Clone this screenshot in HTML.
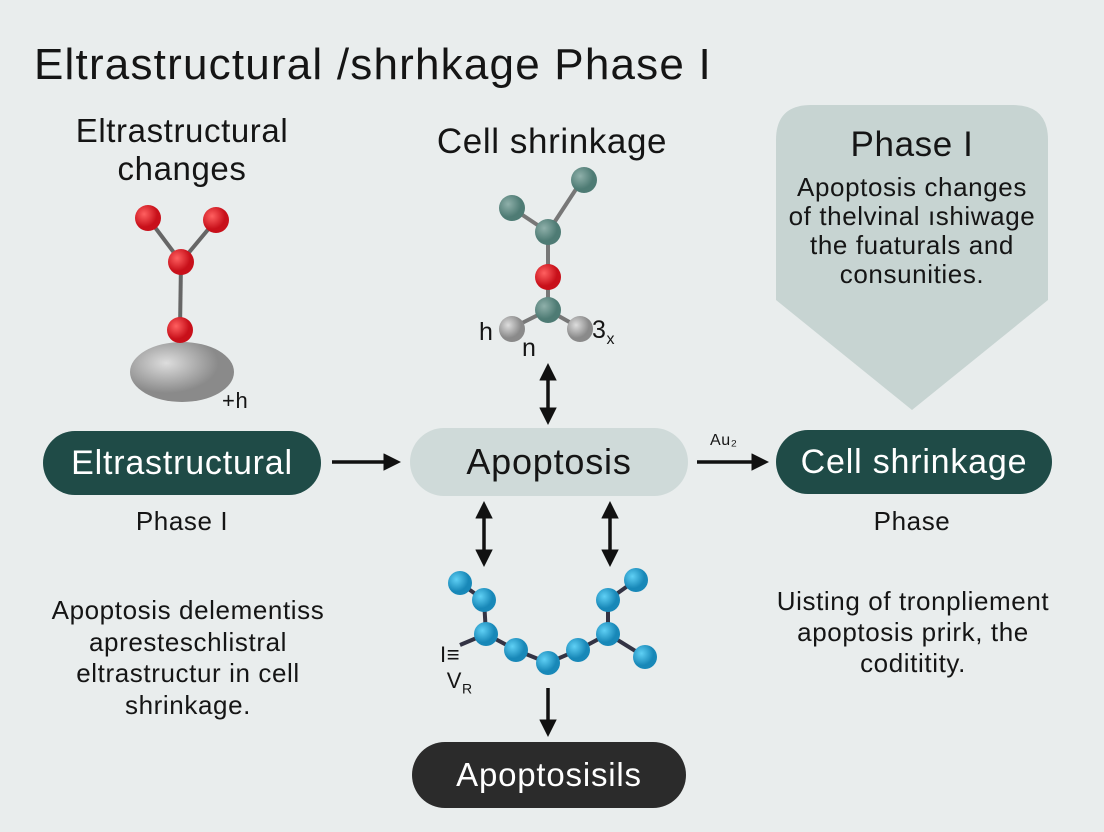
<!DOCTYPE html>
<html><head><style>
body{margin:0;width:1104px;height:832px;background:#e9eded;font-family:"Liberation Sans",sans-serif;overflow:hidden;position:relative}
.t{position:absolute;white-space:nowrap;color:#151515;letter-spacing:0.6px}
.c{transform:translateX(-50%);text-align:center}
.pill{position:absolute;border-radius:34px;display:flex;align-items:center;justify-content:center;font-size:34px;letter-spacing:0.8px}
</style></head><body>
<div class="t" style="left:34px;top:40px;font-size:44px;letter-spacing:1.2px">Eltrastructural /shrhkage Phase I</div>
<div class="t c" style="left:182px;top:112px;font-size:33px;line-height:38px">Eltrastructural<br>changes</div>
<div class="t c" style="left:552px;top:122px;font-size:35px">Cell shrinkage</div>
<svg width="1104" height="832" style="position:absolute;left:0;top:0">
<defs>
<radialGradient id="r" cx="35%" cy="35%"><stop offset="0" stop-color="#ff6060"/><stop offset="1" stop-color="#c8101a"/></radialGradient>
<radialGradient id="g" cx="35%" cy="35%"><stop offset="0" stop-color="#8fb0aa"/><stop offset="1" stop-color="#4e7b74"/></radialGradient>
<radialGradient id="s" cx="35%" cy="35%"><stop offset="0" stop-color="#ddd"/><stop offset="1" stop-color="#8a8a8a"/></radialGradient>
<radialGradient id="b" cx="35%" cy="35%"><stop offset="0" stop-color="#5fd0f5"/><stop offset="1" stop-color="#1888b8"/></radialGradient>
<marker id="a" markerWidth="5" markerHeight="5" refX="3" refY="2.5" orient="auto" markerUnits="strokeWidth"><path d="M0,0L5,2.5L0,5z" fill="#111"/></marker>
</defs>
<path d="M776,140 Q776,105 811,105 L1013,105 Q1048,105 1048,140 L1048,300 L912,410 L776,300Z" fill="#c7d4d2"/>
<g stroke="#666" stroke-width="4"><line x1="148" y1="218" x2="181" y2="262"/><line x1="216" y1="220" x2="181" y2="262"/><line x1="181" y1="262" x2="180" y2="330"/></g>
<ellipse cx="182" cy="372" rx="52" ry="30" fill="url(#s)"/>
<circle cx="148" cy="218" r="13" fill="url(#r)"/><circle cx="216" cy="220" r="13" fill="url(#r)"/><circle cx="181" cy="262" r="13" fill="url(#r)"/><circle cx="180" cy="330" r="13" fill="url(#r)"/>
<g stroke="#777" stroke-width="4"><line x1="512" y1="208" x2="548" y2="232"/><line x1="582" y1="180" x2="548" y2="232"/><line x1="548" y1="232" x2="548" y2="310"/><line x1="512" y1="328" x2="548" y2="310"/><line x1="580" y1="328" x2="548" y2="310"/></g>
<circle cx="512" cy="208" r="13" fill="url(#g)"/><circle cx="584" cy="180" r="13" fill="url(#g)"/><circle cx="548" cy="232" r="13" fill="url(#g)"/><circle cx="548" cy="277" r="13" fill="url(#r)"/><circle cx="548" cy="310" r="13" fill="url(#g)"/><circle cx="512" cy="329" r="13" fill="url(#s)"/><circle cx="580" cy="329" r="13" fill="url(#s)"/>
<polyline points="460,583 484,600 486,634 516,650 548,663 578,650 608,634 608,600 636,580" fill="none" stroke="#334" stroke-width="4"/>
<line x1="608" y1="634" x2="645" y2="657" stroke="#334" stroke-width="4"/><line x1="486" y1="634" x2="460" y2="645" stroke="#334" stroke-width="4"/>
<g fill="url(#b)"><circle cx="460" cy="583" r="12"/><circle cx="484" cy="600" r="12"/><circle cx="486" cy="634" r="12"/><circle cx="516" cy="650" r="12"/><circle cx="548" cy="663" r="12"/><circle cx="578" cy="650" r="12"/><circle cx="608" cy="634" r="12"/><circle cx="608" cy="600" r="12"/><circle cx="636" cy="580" r="12"/><circle cx="645" cy="657" r="12"/></g>
<g stroke="#111" stroke-width="3.5" fill="none">
<line x1="332" y1="462" x2="394" y2="462" marker-end="url(#a)"/>
<line x1="697" y1="462" x2="762" y2="462" marker-end="url(#a)"/>
<line x1="548" y1="395" x2="548" y2="370" marker-end="url(#a)"/><line x1="548" y1="395" x2="548" y2="418" marker-end="url(#a)"/>
<line x1="484" y1="535" x2="484" y2="508" marker-end="url(#a)"/><line x1="484" y1="535" x2="484" y2="560" marker-end="url(#a)"/>
<line x1="610" y1="535" x2="610" y2="508" marker-end="url(#a)"/><line x1="610" y1="535" x2="610" y2="560" marker-end="url(#a)"/>
<line x1="548" y1="688" x2="548" y2="730" marker-end="url(#a)"/>
</g>
</svg>
<div class="t" style="left:222px;top:388px;font-size:22px">+h</div>
<div class="t" style="left:479px;top:318px;font-size:25px">h</div>
<div class="t" style="left:522px;top:334px;font-size:25px">n</div>
<div class="t" style="left:592px;top:316px;font-size:25px">3<sub style="font-size:16px">x</sub></div>
<div class="t" style="left:440px;top:642px;font-size:22px">I≡<br>&nbsp;V<sub style="font-size:14px">R</sub></div>
<div class="t" style="left:710px;top:432px;font-size:16px">Au₂</div>
<div class="t c" style="left:912px;top:125px;font-size:35px">Phase I</div>
<div class="t c" style="left:912px;top:173px;font-size:26px;line-height:29px">Apoptosis changes<br>of thelvinal ıshiwage<br>the fuaturals and<br>consunities.</div>
<div class="pill" style="left:43px;top:431px;width:278px;height:64px;background:#1f4b47;color:#fff">Eltrastructural</div>
<div class="pill" style="left:410px;top:428px;width:278px;height:68px;background:#cfdad9;color:#151515;font-size:36px">Apoptosis</div>
<div class="pill" style="left:776px;top:430px;width:276px;height:64px;background:#1f4b47;color:#fff">Cell shrinkage</div>
<div class="pill" style="left:412px;top:742px;width:274px;height:66px;background:#2b2b2b;color:#fff;font-size:33px">Apoptosisils</div>
<div class="t c" style="left:182px;top:506px;font-size:26px">Phase I</div>
<div class="t c" style="left:912px;top:506px;font-size:26px">Phase</div>
<div class="t c" style="left:188px;top:595px;font-size:26px;line-height:31.5px">Apoptosis delementiss<br>apresteschlistral<br>eltrastructur in cell<br>shrinkage.</div>
<div class="t c" style="left:913px;top:586px;font-size:26px;line-height:31px">Uisting of tronpliement<br>apoptosis prirk, the<br>codititity.</div>
</body></html>
